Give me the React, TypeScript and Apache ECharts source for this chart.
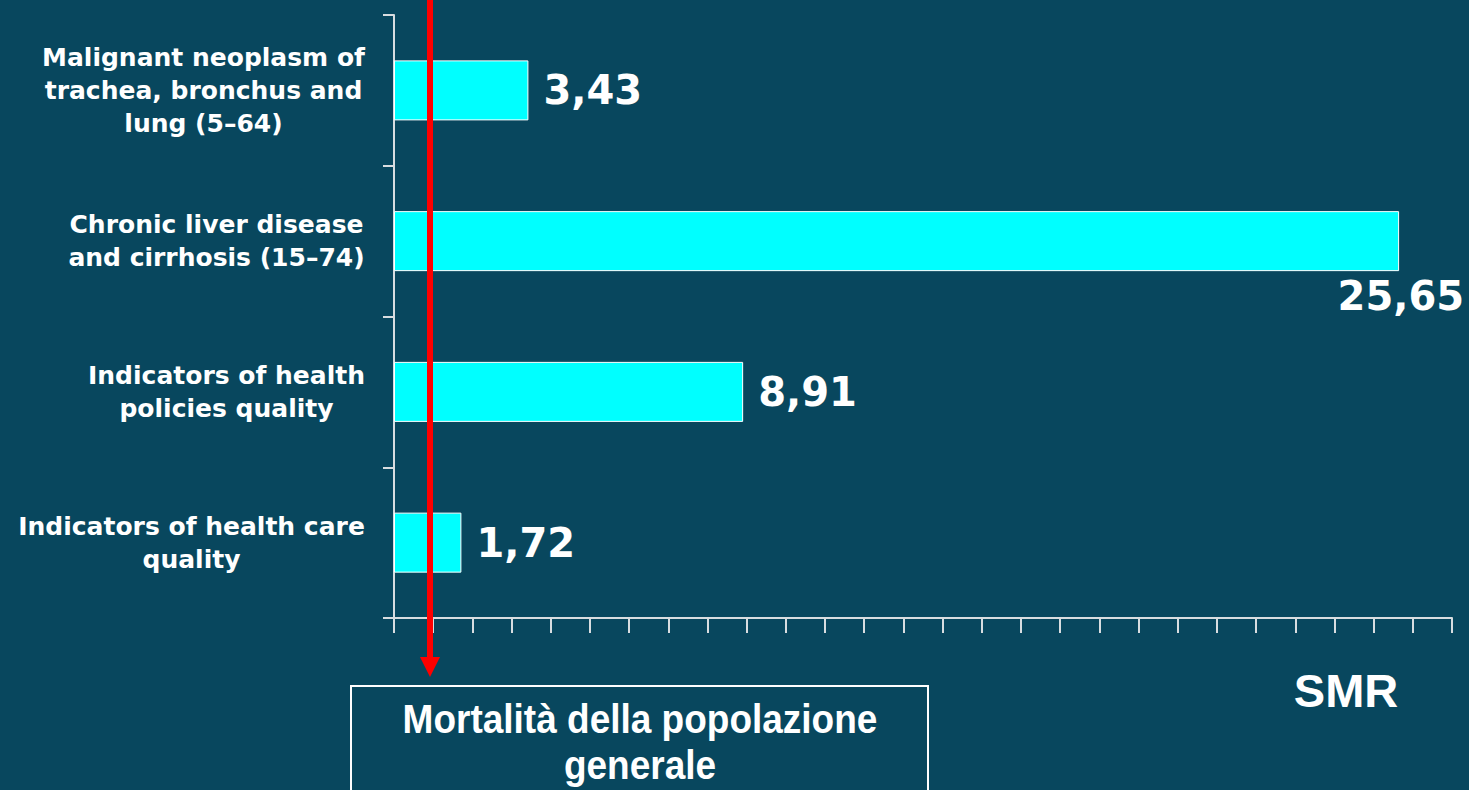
import React, { useEffect, useRef } from "react";
import * as echarts from "echarts";

const categories: string[] = [
  "Malignant neoplasm of\ntrachea, bronchus and\nlung (5–64)",
  "Chronic liver disease\nand cirrhosis (15–74)",
  "Indicators of health\npolicies quality",
  "Indicators of health care\nquality",
];
const smrValues: number[] = [3.43, 25.65, 8.91, 1.72];
const referenceValue = 1;
const xMin = 0;
const xMax = 27;
const xInterval = 1;
const axisTitle = "SMR";
const boxText = "Mortalità della popolazione\ngenerale";

const BG = "#08475E";
const CAT_SIZE = 25;
const CAT_FONT = `bold ${CAT_SIZE}px 'DejaVu Sans'`;

function measureWidest(text: string): number {
  const c = document.createElement("canvas");
  const ctx = c.getContext("2d");
  if (!ctx) return 300;
  ctx.font = CAT_FONT;
  return Math.max(...text.split("\n").map((l) => ctx.measureText(l).width));
}

export default function App() {
  const ref = useRef<HTMLDivElement>(null);
  useEffect(() => {
    if (!ref.current) return;
    const chart = echarts.init(ref.current, undefined, { renderer: "svg" });
    const rich: Record<string, any> = {};
    categories.forEach((c, i) => {
      rich["c" + i] = {
        width: Math.ceil(measureWidest(c)),
        align: "center",
        fontFamily: "DejaVu Sans",
        fontWeight: "bold",
        fontSize: CAT_SIZE,
        lineHeight: 33,
        color: "#ffffff",
      };
    });
    chart.setOption({
      animation: false,
      backgroundColor: BG,
      grid: { left: 394, right: 17, top: 15, bottom: 172 },
      xAxis: {
        type: "value",
        min: xMin,
        max: xMax,
        interval: xInterval,
        axisLine: { show: true, lineStyle: { color: "#d8dde0", width: 2 } },
        axisTick: { show: true, length: 15, lineStyle: { color: "#d8dde0", width: 2 } },
        axisLabel: { show: false },
        splitLine: { show: false },
      },
      yAxis: {
        type: "category",
        data: categories,
        inverse: true,
        axisLine: { show: true, lineStyle: { color: "#d8dde0", width: 2 } },
        axisTick: { show: true, length: 11, lineStyle: { color: "#d8dde0", width: 2 } },
        axisLabel: {
          margin: 29,
          formatter: (v: string) => {
            const i = categories.indexOf(v);
            return v
              .split("\n")
              .map((l) => `{c${i}|${l}}`)
              .join("\n");
          },
          rich,
        },
      },
      series: [
        {
          type: "bar",
          barWidth: 60,
          data: smrValues.map((v, i) => ({
            value: v,
            label:
              i === 1
                ? {
                    position: ["100%", "100%"],
                    align: "right",
                    verticalAlign: "top",
                    offset: [65, 5],
                  }
                : undefined,
          })),
          itemStyle: { color: "#00FFFF", borderColor: "#ffffff", borderWidth: 1 },
          label: {
            show: true,
            position: "right",
            distance: 15,
            color: "#ffffff",
            fontFamily: "DejaVu Sans",
            fontWeight: "bold",
            fontSize: 40,
            formatter: (p: any) => String(p.value).replace(".", ","),
          },
        },
      ],
    });
    const rx = chart.convertToPixel({ xAxisIndex: 0 }, referenceValue) as number;
    const x = Math.round(rx) - 3;
    chart.setOption({
      graphic: [
        {
          type: "rect",
          shape: { x: 351, y: 686, width: 577, height: 120 },
          style: { fill: "none", stroke: "#ffffff", lineWidth: 2 },
          z: 5,
        },
        {
          type: "text",
          x: 640,
          y: 742,
          scaleY: 1.08,
          style: {
            text: boxText,
            fill: "#ffffff",
            font: "bold 37px 'Liberation Sans'",
            lineHeight: 42,
            align: "center",
            verticalAlign: "middle",
          },
          z: 6,
        },
        {
          type: "text",
          x: 1346,
          y: 690,
          style: {
            text: axisTitle,
            fill: "#ffffff",
            font: "bold 47px 'Liberation Sans'",
            align: "center",
            verticalAlign: "middle",
          },
        },
        {
          type: "line",
          shape: { x1: x, y1: 0, x2: x, y2: 660 },
          style: { stroke: "#ff0000", lineWidth: 6 },
          z: 10,
        },
        {
          type: "polygon",
          shape: { points: [[x - 10, 657], [x + 10, 657], [x, 677]] },
          style: { fill: "#ff0000" },
          z: 10,
        },
      ],
    });
    return () => chart.dispose();
  }, []);
  return (
    <div
      ref={ref}
      style={{ position: "fixed", left: 0, top: 0, width: 1469, height: 790 }}
    />
  );
}
